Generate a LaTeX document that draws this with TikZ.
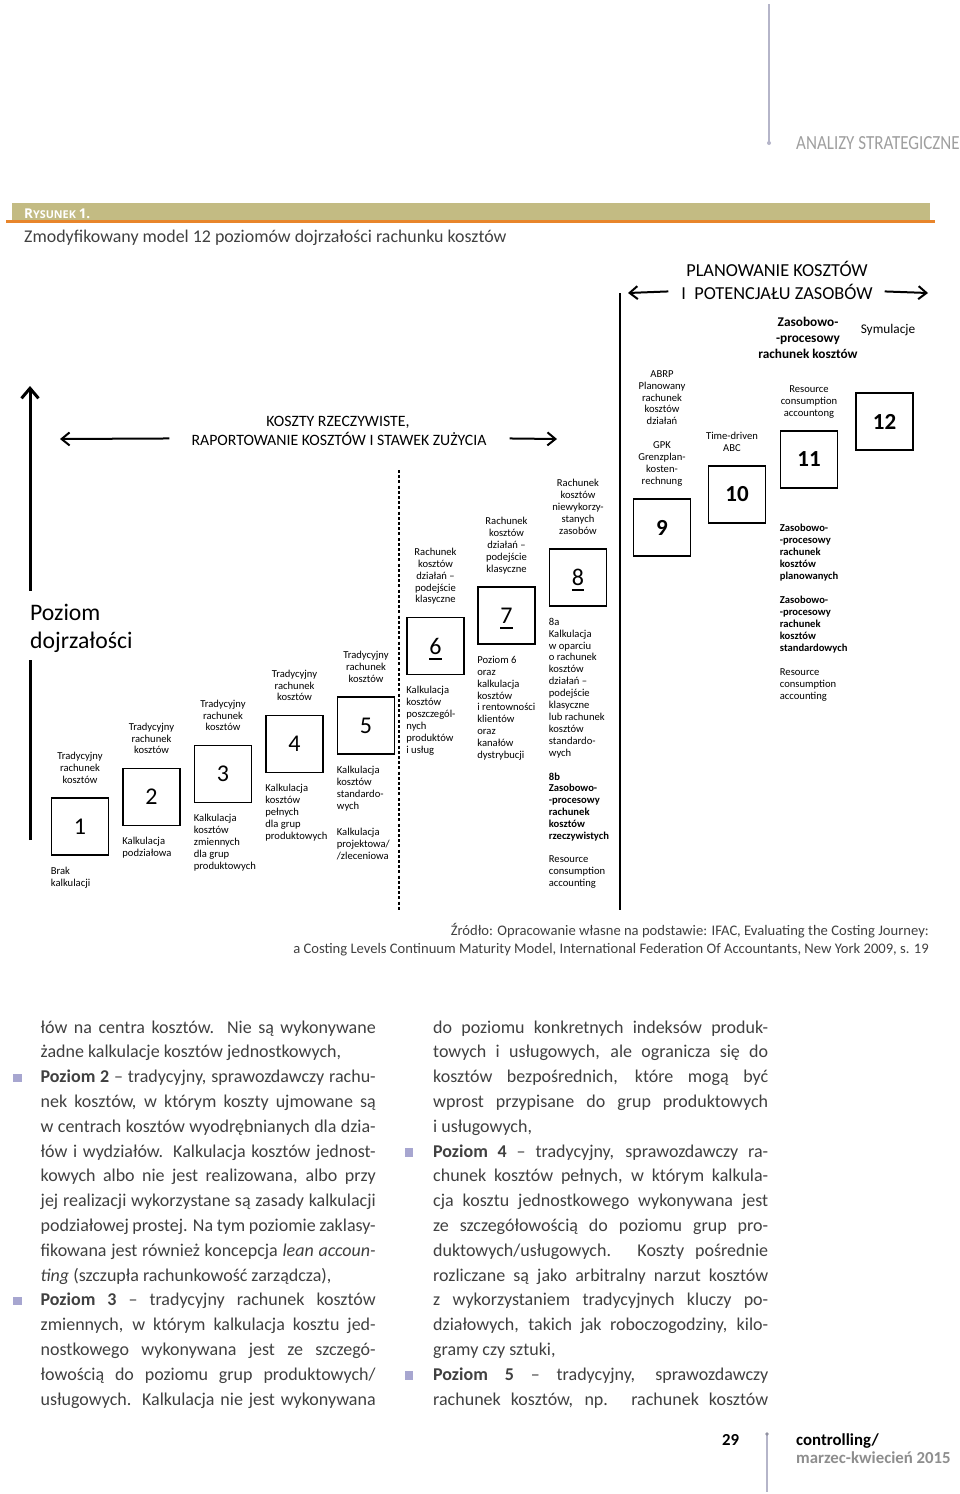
\documentclass[tikz,border=0pt]{standalone}
\usepackage{fontspec}
\setmainfont{Carlito}
\newfontfamily\szerokie{Open Sans}
\newfontfamily\waskie[FakeStretch=0.85]{Carlito}
\usetikzlibrary{positioning,arrows.meta}

\definecolor{khaki}{HTML}{C3BB83}
\definecolor{pomarancz}{HTML}{E8852B}
\definecolor{lawenda}{HTML}{A7A6D0}
\definecolor{szary}{HTML}{8E8E8E}
\definecolor{liniaszara}{HTML}{B5B5C9}
\definecolor{tekst}{HTML}{404040}

% podkreslenie cyfry w kwadracie (poziomy 6-8)
\newcommand\podkreslenie[1]{\setbox0=\hbox{#1}\rlap{\smash{\vrule height -3.8pt depth 5.5pt width \wd0}}#1}

\begin{document}
\begin{tikzpicture}[x=1pt, y=-1pt,
    >={Straight Barb[length=8pt, width=13pt]},
    poziom/.style={draw, line width=1.6pt, minimum width=57pt, minimum height=57pt,
      inner sep=0pt, font=\fontsize{24}{24}\selectfont},
    opis/.style={inner sep=0pt, align=center, font=\fontsize{10.6}{11.9}\selectfont,
      execute at begin node=\strut, execute at end node=\strut},
    opisL/.style={opis, align=left},
    naglowek/.style={inner sep=0pt, anchor=base, font=\fontsize{15.8}{18}\selectfont},
    tresc/.style={inner sep=0pt, anchor=base west, text=tekst,
      font=\fontsize{18}{24.8}\selectfont},
    kwadracik/.style={fill=lawenda, minimum size=8.5pt, inner sep=0pt}]

  \useasboundingbox (0,0) rectangle (960,1494);
  \fill[white] (0,0) rectangle (960,1494);

  % naglowek strony
  \draw[liniaszara, line width=1.2pt] (769,4) -- (769,143);
  \fill[liniaszara] (769,143) circle (2pt);
  \node (dzial) [anchor=base west, inner sep=0pt, text=szary!85,
                 font=\waskie\fontsize{20}{22}\selectfont] at (796,149)
    {ANALIZY STRATEGICZNE};

  % belka rysunku
  \fill[khaki] (12,203) rectangle (930,220);
  \draw[pomarancz, line width=3pt] (6,221) -- (935,221);
  \node (rys) [anchor=base west, inner sep=0pt, text=white, font=\szerokie\bfseries]
    at (24,218)
    {\fontsize{13.5}{14}\selectfont R\fontsize{10.8}{14}\selectfont YSUNEK
     \fontsize{13.5}{14}\selectfont 1.};
  \node (tytul) [anchor=base west, inner sep=0pt, text=tekst,
                 font=\fontsize{17.9}{20}\selectfont] at (24,242)
    {Zmodyfikowany model 12 poziomów dojrzałości rachunku kosztów};

  % planowanie kosztow
  \node (plan1) [naglowek, font=\fontsize{18.3}{20}\selectfont] at (777,276)
    {PLANOWANIE KOSZTÓW};
  \node (plan2) [naglowek, font=\fontsize{18.3}{20}\selectfont] at (777,299)
    {I\hspace{0.45em}POTENCJAŁU ZASOBÓW};
  \coordinate (planL) at (628,293);
  \coordinate (planP) at (928,293);
  \draw[->, line width=2pt] ([xshift=-13pt]plan2.west) -- (planL);
  \draw[->, line width=2pt] ([xshift=12pt]plan2.east) -- (planP);

  \node (zpr) [anchor=north, inner sep=0pt, align=center,
               font=\bfseries\fontsize{13.3}{16}\selectfont] at (808,317)
    {Zasobowo-\\-procesowy\\rachunek kosztów};
  \node (sym) [anchor=base, inner sep=0pt, font=\fontsize{13.3}{16}\selectfont]
    at (888,333) {Symulacje};

  % koszty rzeczywiste
  \node (koszt1) [naglowek] at (338,426) {KOSZTY RZECZYWISTE,};
  \node (koszt2) [naglowek] at (339,445) {RAPORTOWANIE KOSZTÓW I STAWEK ZUŻYCIA};
  \coordinate (kosztL) at (60,439);
  \coordinate (kosztP) at (557,439);
  \draw[->, line width=2pt] ([xshift=-22pt]koszt2.west) -- (kosztL);
  \draw[->, line width=2pt] ([xshift=23pt]koszt2.east) -- (kosztP);

  % linie podzialu
  \coordinate (pionG) at (620,293);
  \coordinate (pionD) at (620,910);
  \draw[line width=1.2pt] (pionG) -- (pionD);
  \coordinate (kropG) at (399,470);
  \coordinate (kropD) at (399,910);
  \draw[line width=1.6pt, dash pattern=on 3pt off 2.2pt] (kropG) -- (kropD);

  % os poziomu dojrzalosci
  \node (dojrz) [anchor=north west, inner sep=0pt, align=left,
                 font=\fontsize{23.7}{27.5}\selectfont] at (30,604)
    {Poziom\\dojrzałości};
  \coordinate (osDol) at (30,840);
  \coordinate (osGora) at (30,386);
  \draw[line width=3pt] (osDol) -- ([yshift=-8pt]dojrz.south west);
  \draw[->, >={Straight Barb[length=10pt, width=17pt]}, line width=3pt]
    ([yshift=13.5pt]dojrz.north west) -- (osGora);

  % poziomy 1-12
  \node (b1)  [poziom] at (80,826.5) {1};
  \node (b2)  [poziom] at (151.5,797) {2};
  \node (b3)  [poziom] at (223,774) {3};
  \node (b4)  [poziom] at (294.5,744) {4};
  \node (b5)  [poziom] at (366,725.5) {5};
  \node (b6)  [poziom] at (435.5,646) {\podkreslenie{6}};
  \node (b7)  [poziom] at (506.5,615.5) {\podkreslenie{7}};
  \node (b8)  [poziom] at (578,577.5) {\podkreslenie{8}};
  \node (b9)  [poziom, font=\bfseries\fontsize{23}{23}\selectfont] at (662,527.5) {9};
  \node (b10) [poziom, font=\bfseries\fontsize{23}{23}\selectfont] at (737,494.5) {10};
  \node (b11) [poziom, font=\bfseries\fontsize{23}{23}\selectfont] at (809,459.5) {11};
  \node (b12) [poziom, font=\bfseries\fontsize{23}{23}\selectfont] at (884.5,421.5) {12};

  % opisy nad poziomami
  \node (g1) [opis, above=10pt of b1] {Tradycyjny\\rachunek\\kosztów};
  \node (g2) [opis, above=10pt of b2] {Tradycyjny\\rachunek\\kosztów};
  \node (g3) [opis, above=10pt of b3] {Tradycyjny\\rachunek\\kosztów};
  \node (g4) [opis, above=10pt of b4] {Tradycyjny\\rachunek\\kosztów};
  \node (g5) [opis, above=10pt of b5] {Tradycyjny\\rachunek\\kosztów};
  \node (g6) [opis, above=10pt of b6]
    {Rachunek\\kosztów\\działań –\\podejście\\klasyczne};
  \node (g7) [opis, above=10pt of b7]
    {Rachunek\\kosztów\\działań –\\podejście\\klasyczne};
  \node (g8) [opis, above=10pt of b8]
    {Rachunek\\kosztów\\niewykorzy-\\stanych\\zasobów};
  \node (g9) [opis, above=10pt of b9]
    {ABRP\\Planowany\\rachunek\\kosztów\\działań\\[12pt]GPK\\Grenzplan-\\kosten-\\rechnung};
  \node (g10) [opis, above=10pt of b10, xshift=-5pt] {Time-driven\\ABC};
  \node (g11) [opis, above=10pt of b11] {Resource\\consumption\\accountong};

  % opisy pod poziomami
  \node (d1) [opisL, below=11pt of b1.south west, anchor=north west]
    {Brak\\kalkulacji};
  \node (d2) [opisL, below=11pt of b2.south west, anchor=north west]
    {Kalkulacja\\podziałowa};
  \node (d3) [opisL, below=11pt of b3.south west, anchor=north west]
    {Kalkulacja\\kosztów\\zmiennych\\dla grup\\produktowych};
  \node (d4) [opisL, below=11pt of b4.south west, anchor=north west]
    {Kalkulacja\\kosztów\\pełnych\\dla grup\\produktowych};
  \node (d5) [opisL, below=11pt of b5.south west, anchor=north west]
    {Kalkulacja\\kosztów\\standardo-\\wych\\[15pt]Kalkulacja\\projektowa/\\/zleceniowa};
  \node (d6) [opisL, below=11pt of b6.south west, anchor=north west]
    {Kalkulacja\\kosztów\\poszczegól-\\nych\\produktów\\i usług};
  \node (d7) [opisL, below=11pt of b7.south west, anchor=north west]
    {Poziom 6\\oraz\\kalkulacja\\kosztów\\i rentowności\\klientów\\oraz\\kanałów\\dystrybucji};
  \node (d8) [opisL, below=11pt of b8.south west, anchor=north west]
    {8a\\Kalkulacja\\w oparciu\\o rachunek\\kosztów\\działań –\\podejście\\klasyczne\\lub rachunek\\kosztów\\standardo-\\wych\\[12pt]\textbf{8b}\\\textbf{Zasobowo-}\\\textbf{-procesowy}\\\textbf{rachunek}\\\textbf{kosztów}\\\textbf{rzeczywistych}\\[11pt]Resource\\consumption\\accounting};
  \node (d11) [opisL, below=35.5pt of b11.south west, anchor=north west]
    {\textbf{Zasobowo-}\\\textbf{-procesowy}\\\textbf{rachunek}\\\textbf{kosztów}\\\textbf{planowanych}\\[12pt]\textbf{Zasobowo-}\\\textbf{-procesowy}\\\textbf{rachunek}\\\textbf{kosztów}\\\textbf{standardowych}\\[12.5pt]Resource\\consumption\\accounting};

  % zrodlo
  \node (zrodlo1) [anchor=base east, inner sep=0pt, text=tekst,
                   font=\fontsize{14.6}{16}\selectfont] at (929,935)
    {Źródło: Opracowanie własne na podstawie: IFAC, Evaluating the Costing Journey:};
  \node (zrodlo2) [anchor=base east, inner sep=0pt, text=tekst,
                   font=\fontsize{14.6}{16}\selectfont] at (929,953)
    {a Costing Levels Continuum Maturity Model, International Federation Of Accountants, New York 2009, s. 19};

  % tekst artykulu
  \foreach \w [count=\i] in {
      {łów na centra kosztów. Nie są wykonywane},
      {żadne kalkulacje kosztów jednostkowych,\hfill},
      {\textbf{Poziom 2} – tradycyjny, sprawozdawczy rachu-},
      {nek kosztów, w którym koszty ujmowane są},
      {w centrach kosztów wyodrębnianych dla dzia-},
      {łów i wydziałów. Kalkulacja kosztów jednost-},
      {kowych albo nie jest realizowana, albo przy},
      {jej realizacji wykorzystane są zasady kalkulacji},
      {podziałowej prostej. Na tym poziomie zaklasy-},
      {fikowana jest również koncepcja \textit{lean accoun-}},
      {\textit{ting} (szczupła rachunkowość zarządcza),\hfill},
      {\textbf{Poziom 3} – tradycyjny rachunek kosztów},
      {zmiennych, w którym kalkulacja kosztu jed-},
      {nostkowego wykonywana jest ze szczegó-},
      {łowością do poziomu grup produktowych/},
      {usługowych. Kalkulacja nie jest wykonywana}}
    \node (lewa\i) [tresc] at (40.5,{1033+24.8*(\i-1)}) {\hbox to 335pt{\w}};
  \foreach \w [count=\i] in {
      {do poziomu konkretnych indeksów produk-},
      {towych i usługowych, ale ogranicza się do},
      {kosztów bezpośrednich, które mogą być},
      {wprost przypisane do grup produktowych},
      {i usługowych,\hfill},
      {\textbf{Poziom 4} – tradycyjny, sprawozdawczy ra-},
      {chunek kosztów pełnych, w którym kalkula-},
      {cja kosztu jednostkowego wykonywana jest},
      {ze szczegółowością do poziomu grup pro-},
      {duktowych/usługowych. Koszty pośrednie},
      {rozliczane są jako arbitralny narzut kosztów},
      {z wykorzystaniem tradycyjnych kluczy po-},
      {działowych, takich jak roboczogodziny, kilo-},
      {gramy czy sztuki,\hfill},
      {\textbf{Poziom 5} – tradycyjny, sprawozdawczy},
      {rachunek kosztów, np. rachunek kosztów}}
    \node (prawa\i) [tresc] at (433,{1033+24.8*(\i-1)}) {\hbox to 335pt{\w}};

  \node (p2) [kwadracik] at (17.5,1078) {};
  \node (p3) [kwadracik] at (17.5,1301) {};
  \node (p4) [kwadracik] at (409,1152.5) {};
  \node (p5) [kwadracik] at (409,1375.5) {};

  % stopka
  \draw[liniaszara, line width=1.2pt] (767,1434) -- (767,1492);
  \fill[liniaszara!80!black] (767,1434) circle (1.8pt);
  \node (nrstr) [anchor=base west, inner sep=0pt, font=\bfseries\fontsize{16.8}{18}\selectfont]
    at (722,1445) {29};
  \node (pismo) [anchor=base west, inner sep=0pt, font=\bfseries\fontsize{16.8}{18}\selectfont]
    at (796,1445) {controlling/};
  \node (numer) [anchor=base west, inner sep=0pt, text=szary,
                 font=\bfseries\fontsize{16.8}{18}\selectfont] at (796,1463.5)
    {marzec-kwiecień 2015};
\end{tikzpicture}
\end{document}
